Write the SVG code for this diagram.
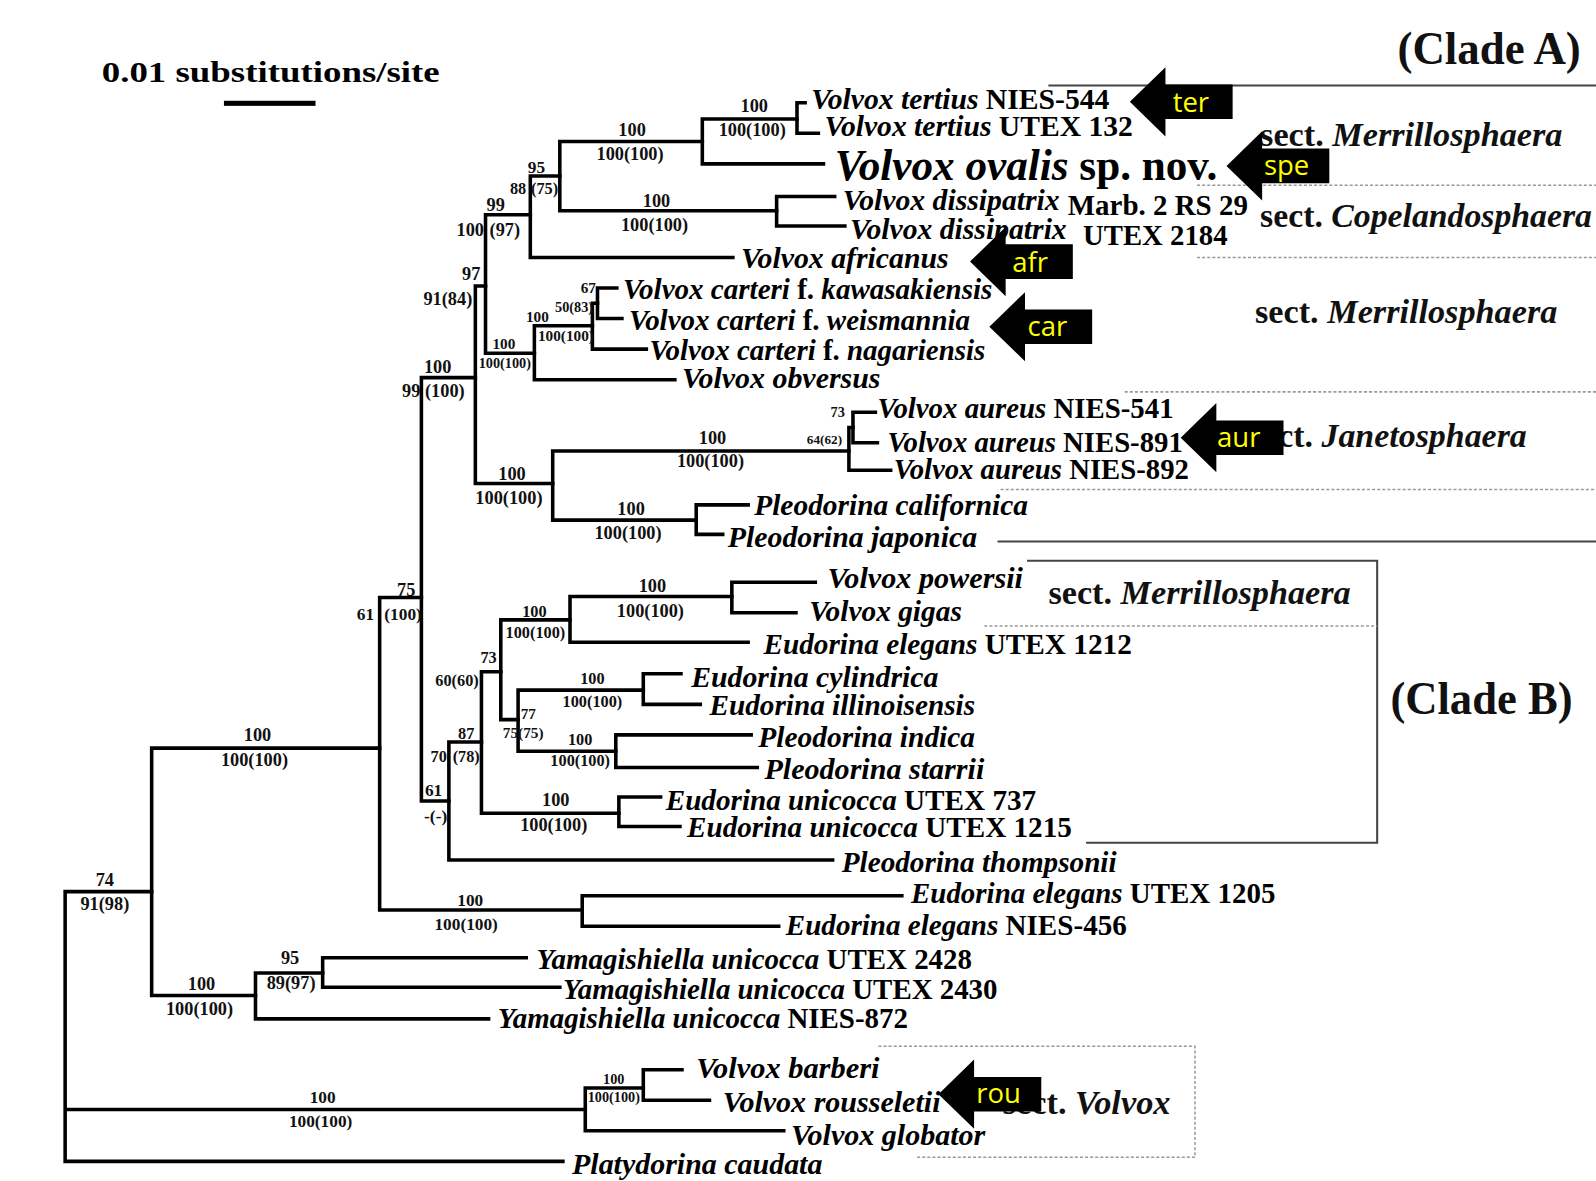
<svg xmlns="http://www.w3.org/2000/svg" width="1596" height="1181" viewBox="0 0 1596 1181">
<style>
.br{fill:none;stroke:#000;stroke-width:3.5;stroke-linecap:square}
.lf{font-family:"Liberation Serif","Times New Roman",serif;font-weight:bold;font-size:29px;fill:#000}
.it{font-style:italic}
.bs{font-family:"Liberation Serif","Times New Roman",serif;font-weight:bold;font-size:18px;text-anchor:middle;fill:#111}
.s17{font-size:17px}.s16{font-size:16px}.s15{font-size:15px}.s14{font-size:14px}.s13{font-size:13px}
.sect{font-family:"Liberation Serif","Times New Roman",serif;font-weight:bold;font-size:34px;fill:#111}
.clade{font-family:"Liberation Serif","Times New Roman",serif;font-weight:bold;font-size:46px;fill:#111}
.dash{fill:none;stroke:#9a9a9a;stroke-width:1.5;stroke-dasharray:3 2}
.solid{fill:none;stroke:#444;stroke-width:2}
.arr{fill:#000}
.at{font-family:"Open Sans","Liberation Sans",sans-serif;font-size:27px;fill:#ffff00;text-anchor:middle}
</style>
<defs>
<path id="arw" d="M0,0 L35,-34 V-17 H101 V17 H35 V34 Z"/>
</defs>
<rect width="1596" height="1181" fill="#fff"/>
<g transform="scale(1.01786)">
<g id="scalebar">
<text x="100" y="81" class="lf" style="font-size:28px" textLength="332" lengthAdjust="spacingAndGlyphs">0.01 substitutions/site</text>
<rect x="220" y="99" width="90" height="5" fill="#000"/>
</g>
<g id="connectors">
<path class="br" d="M64,876 V1141 M64,876 H149 M64,1090 H575 M64,1141 H553"/>
<path class="br" d="M149,735 V978 M149,735 H373 M149,978 H251"/>
<path class="br" d="M251,956 V1001 M251,956 H317 M251,1001 H480"/>
<path class="br" d="M317,941 V970 M317,941 H517 M317,970 H550"/>
<path class="br" d="M575,1069 V1111 M575,1069 H632 M575,1111 H770"/>
<path class="br" d="M632,1051 V1081 M632,1051 H670 M632,1081 H697"/>
<path class="br" d="M373,587 V894 M373,587 H414 M373,894 H572"/>
<path class="br" d="M572,880 V910 M572,880 H886 M572,910 H765"/>
<path class="br" d="M414,371 V787 M414,371 H467 M414,787 H441"/>
<path class="br" d="M441,729 V845 M441,729 H473 M441,845 H818"/>
<path class="br" d="M473,660 V799 M473,660 H492 M473,799 H608"/>
<path class="br" d="M492,609 V707 M492,609 H560 M492,707 H509"/>
<path class="br" d="M560,586 V631 M560,586 H719 M560,631 H735"/>
<path class="br" d="M719,572 V602 M719,572 H801 M719,602 H782"/>
<path class="br" d="M509,678 V738 M509,678 H632 M509,738 H605"/>
<path class="br" d="M632,662 V692 M632,662 H669 M632,692 H688"/>
<path class="br" d="M605,722 V754 M605,722 H738 M605,754 H744"/>
<path class="br" d="M608,783 V812 M608,783 H649 M608,812 H668"/>
<path class="br" d="M467,281 V475 M467,281 H477 M467,475 H543"/>
<path class="br" d="M477,211 V347 M477,211 H521 M477,347 H525"/>
<path class="br" d="M521,173 V253 M521,173 H550 M521,253 H720"/>
<path class="br" d="M550,139 V207 M550,139 H690 M550,207 H763"/>
<path class="br" d="M690,117 V161 M690,117 H783 M690,161 H809"/>
<path class="br" d="M783,101 V131 M783,101 H791 M783,131 H804"/>
<path class="br" d="M763,193 V222 M763,193 H820 M763,222 H830"/>
<path class="br" d="M525,320 V373 M525,320 H582 M525,373 H663"/>
<path class="br" d="M582,298 V343 M582,298 H587 M582,343 H635"/>
<path class="br" d="M587,283 V313 M587,283 H606 M587,313 H611"/>
<path class="br" d="M543,443 V511 M543,443 H834 M543,511 H684"/>
<path class="br" d="M834,420 V462 M834,420 H838 M834,462 H875"/>
<path class="br" d="M838,405 V435 M838,405 H860 M838,435 H862"/>
<path class="br" d="M684,496 V525 M684,496 H735 M684,525 H710"/>
</g>
<g id="supports">
<text class="bs" x="741" y="110">100</text><text class="bs" x="739" y="134">100(100)</text>
<text class="bs" x="621" y="134">100</text><text class="bs" x="619" y="157">100(100)</text>
<text class="bs" x="645" y="203">100</text><text class="bs" x="643" y="227">100(100)</text>
<text class="bs s17" x="527" y="170">95</text><text class="bs s16" x="509" y="191">88</text><text class="bs s16" x="535" y="191">(75)</text>
<text class="bs" x="487" y="207">99</text><text class="bs" x="462" y="232">100</text><text class="bs" x="496" y="232">(97)</text>
<text class="bs" x="463" y="275">97</text><text class="bs" x="440" y="300">91(84)</text>
<text class="bs s15" x="578" y="288">67</text><text class="bs s14" x="564" y="307">50(83)</text>
<text class="bs s15" x="528" y="316">100</text><text class="bs s15" x="556" y="335">100(100)</text>
<text class="bs s15" x="495" y="343">100</text><text class="bs s14" x="496" y="362">100(100)</text>
<text class="bs" x="430" y="366">100</text><text class="bs" x="404" y="390">99</text><text class="bs" x="437" y="390">(100)</text>
<text class="bs s14" x="823" y="410">73</text><text class="bs s13" x="810" y="436">64(62)</text>
<text class="bs" x="700" y="436">100</text><text class="bs" x="698" y="459">100(100)</text>
<text class="bs" x="503" y="472">100</text><text class="bs" x="500" y="495">100(100)</text>
<text class="bs" x="620" y="506">100</text><text class="bs" x="617" y="530">100(100)</text>
<text class="bs" x="399" y="586">75</text><text class="bs s17" x="359" y="609">61</text><text class="bs s17" x="396" y="609">(100)</text>
<text class="bs" x="641" y="582">100</text><text class="bs" x="639" y="606">100(100)</text>
<text class="bs s16" x="525" y="606">100</text><text class="bs s16" x="526" y="627">100(100)</text>
<text class="bs s16" x="480" y="651">73</text><text class="bs s16" x="449" y="674">60(60)</text>
<text class="bs s16" x="582" y="672">100</text><text class="bs s16" x="582" y="695">100(100)</text>
<text class="bs s15" x="519" y="706">77</text><text class="bs s15" x="514" y="725">75(75)</text>
<text class="bs s16" x="570" y="732">100</text><text class="bs s16" x="570" y="753">100(100)</text>
<text class="bs s16" x="458" y="726">87</text><text class="bs s16" x="431" y="749">70</text><text class="bs s16" x="458" y="749">(78)</text>
<text class="bs s17" x="426" y="782">61</text><text class="bs s17" x="428" y="808">-(-)</text>
<text class="bs" x="546" y="792">100</text><text class="bs" x="544" y="816">100(100)</text>
<text class="bs s17" x="462" y="890">100</text><text class="bs s17" x="458" y="914">100(100)</text>
<text class="bs" x="253" y="728">100</text><text class="bs" x="250" y="753">100(100)</text>
<text class="bs" x="103" y="870">74</text><text class="bs" x="103" y="894">91(98)</text>
<text class="bs" x="198" y="973">100</text><text class="bs" x="196" y="997">100(100)</text>
<text class="bs" x="285" y="947">95</text><text class="bs" x="286" y="972">89(97)</text>
<text class="bs s17" x="317" y="1084">100</text><text class="bs s17" x="315" y="1107">100(100)</text>
<text class="bs s14" x="603" y="1065">100</text><text class="bs s14" x="603" y="1083">100(100)</text>
</g>
<g id="leaf-tertius-544"><text class="lf" x="797" y="107" textLength="293" lengthAdjust="spacingAndGlyphs"><tspan class="it">Volvox tertius</tspan> NIES-544</text></g>
<g id="leaf-tertius-132"><text class="lf" x="810" y="134" textLength="303" lengthAdjust="spacingAndGlyphs"><tspan class="it">Volvox tertius</tspan> UTEX 132</text></g>
<g id="leaf-ovalis"><text class="lf" x="820" y="177" style="font-size:44px" textLength="376" lengthAdjust="spacingAndGlyphs"><tspan class="it">Volvox ovalis</tspan> sp. nov.</text></g>
<g id="leaf-dissipatrix-marb"><text class="lf it" x="828" y="206" textLength="213" lengthAdjust="spacingAndGlyphs">Volvox dissipatrix</text><text class="lf" x="1049" y="211" textLength="177" lengthAdjust="spacingAndGlyphs">Marb. 2 RS 29</text></g>
<g id="leaf-dissipatrix-utex"><text class="lf it" x="835" y="235" textLength="213" lengthAdjust="spacingAndGlyphs">Volvox dissipatrix</text><text class="lf" x="1064" y="241" textLength="142" lengthAdjust="spacingAndGlyphs">UTEX 2184</text></g>
<g id="leaf-africanus"><text class="lf it" x="728" y="263" textLength="204" lengthAdjust="spacingAndGlyphs">Volvox africanus</text></g>
<g id="leaf-kawasakiensis"><text class="lf" x="612" y="294" textLength="363" lengthAdjust="spacingAndGlyphs"><tspan class="it">Volvox carteri</tspan> f. <tspan class="it">kawasakiensis</tspan></text></g>
<g id="leaf-weismannia"><text class="lf" x="618" y="324" textLength="335" lengthAdjust="spacingAndGlyphs"><tspan class="it">Volvox carteri</tspan> f. <tspan class="it">weismannia</tspan></text></g>
<g id="leaf-nagariensis"><text class="lf" x="638" y="354" textLength="330" lengthAdjust="spacingAndGlyphs"><tspan class="it">Volvox carteri</tspan> f. <tspan class="it">nagariensis</tspan></text></g>
<g id="leaf-obversus"><text class="lf it" x="670" y="381" textLength="195" lengthAdjust="spacingAndGlyphs">Volvox obversus</text></g>
<g id="leaf-aureus-541"><text class="lf" x="862" y="411" textLength="291" lengthAdjust="spacingAndGlyphs"><tspan class="it">Volvox aureus</tspan> NIES-541</text></g>
<g id="leaf-aureus-891"><text class="lf" x="872" y="444" textLength="290" lengthAdjust="spacingAndGlyphs"><tspan class="it">Volvox aureus</tspan> NIES-891</text></g>
<g id="leaf-aureus-892"><text class="lf" x="878" y="471" textLength="290" lengthAdjust="spacingAndGlyphs"><tspan class="it">Volvox aureus</tspan> NIES-892</text></g>
<g id="leaf-californica"><text class="lf it" x="741" y="506" textLength="269" lengthAdjust="spacingAndGlyphs">Pleodorina californica</text></g>
<g id="leaf-japonica"><text class="lf it" x="715" y="537" textLength="245" lengthAdjust="spacingAndGlyphs">Pleodorina japonica</text></g>
<g id="leaf-powersii"><text class="lf it" x="813" y="578" textLength="192" lengthAdjust="spacingAndGlyphs">Volvox powersii</text></g>
<g id="leaf-gigas"><text class="lf it" x="795" y="610" textLength="150" lengthAdjust="spacingAndGlyphs">Volvox gigas</text></g>
<g id="leaf-elegans-1212"><text class="lf" x="750" y="643" textLength="362" lengthAdjust="spacingAndGlyphs"><tspan class="it">Eudorina elegans</tspan> UTEX 1212</text></g>
<g id="leaf-cylindrica"><text class="lf it" x="679" y="675" textLength="243" lengthAdjust="spacingAndGlyphs">Eudorina cylindrica</text></g>
<g id="leaf-illinoisensis"><text class="lf it" x="697" y="702" textLength="261" lengthAdjust="spacingAndGlyphs">Eudorina illinoisensis</text></g>
<g id="leaf-indica"><text class="lf it" x="745" y="734" textLength="213" lengthAdjust="spacingAndGlyphs">Pleodorina indica</text></g>
<g id="leaf-starrii"><text class="lf it" x="751" y="765" textLength="216" lengthAdjust="spacingAndGlyphs">Pleodorina starrii</text></g>
<g id="leaf-unicocca-737"><text class="lf" x="654" y="796" textLength="364" lengthAdjust="spacingAndGlyphs"><tspan class="it">Eudorina unicocca</tspan> UTEX 737</text></g>
<g id="leaf-unicocca-1215"><text class="lf" x="675" y="822" textLength="378" lengthAdjust="spacingAndGlyphs"><tspan class="it">Eudorina unicocca</tspan> UTEX 1215</text></g>
<g id="leaf-thompsonii"><text class="lf it" x="827" y="857" textLength="270" lengthAdjust="spacingAndGlyphs">Pleodorina thompsonii</text></g>
<g id="leaf-elegans-1205"><text class="lf" x="895" y="887" textLength="358" lengthAdjust="spacingAndGlyphs"><tspan class="it">Eudorina elegans</tspan> UTEX 1205</text></g>
<g id="leaf-elegans-456"><text class="lf" x="772" y="919" textLength="335" lengthAdjust="spacingAndGlyphs"><tspan class="it">Eudorina elegans</tspan> NIES-456</text></g>
<g id="leaf-yama-2428"><text class="lf" x="527" y="952" textLength="428" lengthAdjust="spacingAndGlyphs"><tspan class="it">Yamagishiella unicocca</tspan> UTEX 2428</text></g>
<g id="leaf-yama-2430"><text class="lf" x="553" y="981" textLength="427" lengthAdjust="spacingAndGlyphs"><tspan class="it">Yamagishiella unicocca</tspan> UTEX 2430</text></g>
<g id="leaf-yama-872"><text class="lf" x="489" y="1010" textLength="403" lengthAdjust="spacingAndGlyphs"><tspan class="it">Yamagishiella unicocca</tspan> NIES-872</text></g>
<g id="leaf-barberi"><text class="lf it" x="684" y="1059" textLength="180" lengthAdjust="spacingAndGlyphs">Volvox barberi</text></g>
<g id="leaf-rousseletii"><text class="lf it" x="710" y="1092" textLength="214" lengthAdjust="spacingAndGlyphs">Volvox rousseletii</text></g>
<g id="leaf-globator"><text class="lf it" x="777" y="1125" textLength="191" lengthAdjust="spacingAndGlyphs">Volvox globator</text></g>
<g id="leaf-platydorina"><text class="lf it" x="562" y="1153" textLength="246" lengthAdjust="spacingAndGlyphs">Platydorina caudata</text></g>
<g id="annotations">
<path class="solid" d="M1030,84 H1568"/>
<path class="dash" d="M1176,182 H1568 M1176,253 H1568 M1105,385 H1568 M983,481 H1568"/>
<path class="solid" d="M980,532 H1568"/>
<path class="solid" d="M1009,551 H1353 V828 H1067"/>
<path class="dash" d="M967,615 H1353"/>
<path class="dash" d="M863,1028 H1174 V1137 H900"/>
<text class="clade" x="1373" y="63" textLength="180" lengthAdjust="spacingAndGlyphs">(Clade A)</text>
<text class="clade" x="1366" y="701" textLength="179" lengthAdjust="spacingAndGlyphs">(Clade B)</text>
<text class="sect" x="1238" y="143" textLength="297" lengthAdjust="spacingAndGlyphs">sect. <tspan class="it">Merrillosphaera</tspan></text>
<text class="sect" x="1238" y="223" textLength="326" lengthAdjust="spacingAndGlyphs">sect. <tspan class="it">Copelandosphaera</tspan></text>
<text class="sect" x="1233" y="317" textLength="297" lengthAdjust="spacingAndGlyphs">sect. <tspan class="it">Merrillosphaera</tspan></text>
<text class="sect" x="1228" y="439" textLength="272" lengthAdjust="spacingAndGlyphs">sect. <tspan class="it">Janetosphaera</tspan></text>
<text class="sect" x="1030" y="593" textLength="297" lengthAdjust="spacingAndGlyphs">sect. <tspan class="it">Merrillosphaera</tspan></text>
<text class="sect" x="985" y="1094" textLength="165" lengthAdjust="spacingAndGlyphs">sect. <tspan class="it">Volvox</tspan></text>
</g>
<g id="arrow-ter"><use href="#arw" class="arr" x="1110" y="100"/><text class="at" x="1170" y="110">ter</text></g>
<g id="arrow-spe"><use href="#arw" class="arr" x="1205" y="163"/><text class="at" x="1264" y="172">spe</text></g>
<g id="arrow-afr"><use href="#arw" class="arr" x="953" y="257"/><text class="at" x="1012" y="267">afr</text></g>
<g id="arrow-car"><use href="#arw" class="arr" x="972" y="321"/><text class="at" x="1029" y="330">car</text></g>
<g id="arrow-aur"><use href="#arw" class="arr" x="1160" y="430"/><text class="at" x="1217" y="439">aur</text></g>
<g id="arrow-rou"><use href="#arw" class="arr" x="922" y="1075"/><text class="at" x="981" y="1084">rou</text></g>
</g>
</svg>
